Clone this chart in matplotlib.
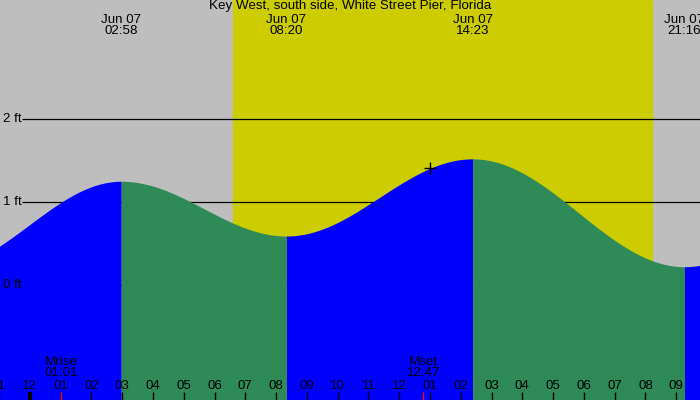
import numpy as np
import matplotlib.pyplot as plt

plt.rcParams['font.family'] = ['Liberation Sans', 'DejaVu Sans']

# Tide extremes (hours after midnight Jun 07, feet)
tide_hours = [-3.0, 2.967, 8.333, 14.383, 21.267, 27.5]
tide_feet = [0.20, 1.25, 0.59, 1.52, 0.22, 1.30]
tide_labels = ['02:58', '08:20', '14:23', '21:16']

sunrise, sunset = 6.607, 20.22
moon_hours = [1.017, 12.783]
moon_labels = ['Mrise\n01:01', 'Mset\n12:47']
now_hour = 13.0

title = 'Key West, south side, White Street Pier, Florida'
hour_ticks = list(range(-1, 22))
ft_levels = [0, 1, 2]

x_min, x_max = -0.971, 21.771
y_min, y_max = -1.386, 3.434
FS = 9.6

GRAY = '#bebebe'
YELLOW = '#cccc00'
BLUE = '#0000ff'
GREEN = '#2e8b57'


def tide_at(t):
    h = np.zeros_like(t)
    for i in range(len(tide_hours) - 1):
        t1, t2 = tide_hours[i], tide_hours[i + 1]
        h1, h2 = tide_feet[i], tide_feet[i + 1]
        m = (t >= t1) & (t <= t2)
        f = (t[m] - t1) / (t2 - t1)
        h[m] = h1 + (h2 - h1) * (1 - np.cos(np.pi * f)) / 2
    return h


fig = plt.figure(figsize=(7, 4), dpi=100)
ax = fig.add_axes([0, 0, 1, 1])
ax.set_xlim(x_min, x_max)
ax.set_ylim(y_min, y_max)
ax.axis('off')

# day / night background
ax.axvspan(x_min, x_max, color=GRAY, zorder=0)
ax.axvspan(sunrise, sunset, color=YELLOW, zorder=0)

# foot lines (under the water), labels on top
for lvl in ft_levels:
    ax.hlines(lvl, x_min + 22 / 30.78, x_max, color='black', lw=0.9, zorder=1)
    ax.text(x_min + 3 / 30.78, lvl, f'{lvl} ft', ha='left', va='center',
            fontsize=FS, zorder=5)

# water, blue when rising, green when falling
for i in range(len(tide_hours) - 1):
    t = np.linspace(tide_hours[i], tide_hours[i + 1], 200)
    rising = tide_feet[i + 1] > tide_feet[i]
    ax.fill_between(t, y_min, tide_at(t), color=BLUE if rising else GREEN,
                    lw=0, zorder=2)

# current time marker
ax.plot([now_hour], tide_at(np.array([now_hour])), marker='+', color='black',
        ms=9, mew=1.0, zorder=4)

# tide time labels at the top
for hr, lab in zip(tide_hours[1:5], tide_labels):
    ax.text(hr, 0.965, 'Jun 07\n' + lab, transform=ax.get_xaxis_transform(),
            ha='center', va='top', fontsize=FS, linespacing=0.9, zorder=5)

ax.text(0.5, 0.999, title, transform=ax.transAxes, ha='center', va='top',
        fontsize=FS, zorder=5)

# hour ticks along the bottom
tr = ax.get_xaxis_transform()
for h in hour_ticks:
    lab = '%02d' % ((h - 1) % 12 + 1)
    if h in (-1, 11):
        lab = '11'
    ax.vlines(h, 0, 0.02, transform=tr, color='black',
              lw=3 if h == 0 else 1, zorder=5)
    ax.text(h, 0.036, lab, transform=tr, ha='center', va='center',
            fontsize=FS, zorder=5)

for hr, lab in zip(moon_hours, moon_labels):
    ax.vlines(hr, 0, 0.02, transform=tr, color='red', lw=1, zorder=5)
    ax.text(hr, 0.082, lab, transform=tr, ha='center', va='center',
            fontsize=FS, linespacing=0.9, zorder=5)

fig.savefig('out.png', dpi=100)
